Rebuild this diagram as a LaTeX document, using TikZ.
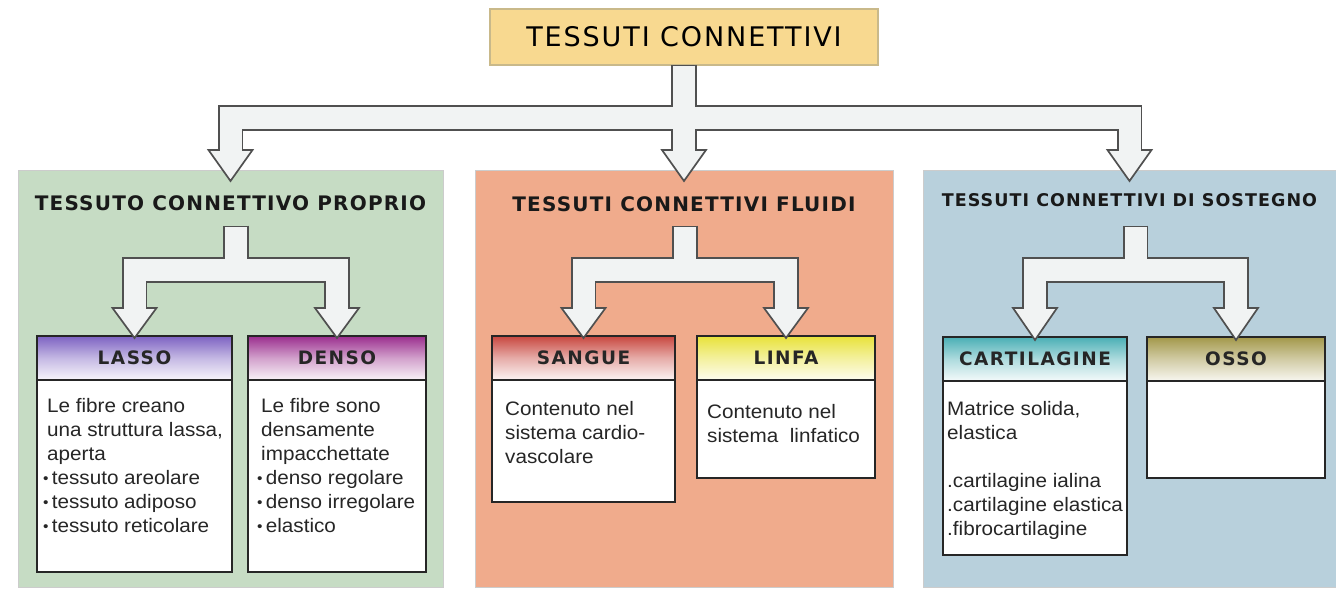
\documentclass[tikz,border=0pt]{standalone}
\usepackage{fontspec}
\setmainfont{Liberation Sans}[FakeStretch=1.06]
\newfontfamily\titolofont{DejaVu Sans}[LetterSpace=7]
\newfontfamily\testafont{DejaVu Sans}[LetterSpace=6]
\newfontfamily\cassafont{DejaVu Sans}[LetterSpace=8]
\usetikzlibrary{positioning,calc}

\definecolor{titlefill}{HTML}{F8D990}
\definecolor{titleline}{HTML}{C9B98A}
\definecolor{greenpanel}{HTML}{C6DCC4}
\definecolor{orangepanel}{HTML}{F0AB8C}
\definecolor{bluepanel}{HTML}{B8D0DC}
\definecolor{pipeline}{HTML}{505050}
\definecolor{pipefill}{HTML}{F1F3F3}
\definecolor{lassotop}{HTML}{7D62C2}
\definecolor{densotop}{HTML}{9B2E8E}
\definecolor{sanguetop}{HTML}{C8473F}
\definecolor{linfatop}{HTML}{E8E23A}
\definecolor{cartitop}{HTML}{4AAFB5}
\definecolor{ossotop}{HTML}{A3984A}
\definecolor{bodyink}{HTML}{262626}

\newcommand{\dotitem}{\hspace*{-4pt}\raisebox{0.5pt}{\scalebox{0.75}{\textbullet}}\,}

\begin{document}
\begin{tikzpicture}[x=1pt, y=-1pt,
    panel/.style={draw=black!20, line width=1pt, inner sep=0pt, outer sep=0pt},
    panelhead/.style={font=\testafont\bfseries\fontsize{20}{22}\selectfont, inner sep=0pt, text=black!90},
    subbox/.style={fill=white, inner sep=0pt, outer sep=0pt},
    boxline/.style={draw=black!85, line width=1.6pt},
    subhead/.style={font=\cassafont\bfseries\fontsize{18.5}{20}\selectfont, inner sep=0pt, text=black!85},
    bodytext/.style={font=\fontsize{19.5}{24}\selectfont, align=left, inner sep=0pt, text=bodyink},
    pipeout/.style={draw=pipeline, line width=25.5pt},
    pipein/.style={draw=pipefill, line width=22pt},
    pipehead/.style={draw=pipeline, fill=pipefill, line width=1.7pt, line join=miter}]
    \useasboundingbox[fill=white] (0,0) rectangle (1336,589);

    \node[panel, fill=greenpanel, minimum width=425pt, minimum height=417pt] (proprio) at (230.5,378.5) {};
    \node[panel, fill=orangepanel, minimum width=418pt, minimum height=417pt] (fluidi) at (684,378.5) {};
    \node[panel, fill=bluepanel, minimum width=413pt, minimum height=417pt] (sostegno) at (1129.5,378.5) {};

    \node[draw=titleline, fill=titlefill, line width=1.2pt, outer sep=0pt, minimum width=388pt, minimum height=56pt,
        font=\titolofont\fontsize{27}{30}\selectfont] (title) at (684,37) {TESSUTI CONNETTIVI};

    \node[panelhead, below=25pt of proprio.north] (proprio-h) {TESSUTO CONNETTIVO PROPRIO};
    \node[panelhead, below=26pt of fluidi.north] (fluidi-h) {TESSUTI CONNETTIVI FLUIDI};
    \node[panelhead, font=\testafont\bfseries\fontsize{17.5}{20}\selectfont, below=23pt of sostegno.north] (sostegno-h) {TESSUTI CONNETTIVI DI SOSTEGNO};

    \node[subbox, minimum width=195pt, minimum height=236pt] (lasso) at (134.5,454) {};
    \shade[top color=lassotop, bottom color=lassotop!6!white, middle color=lassotop!45!white] (lasso.north west) rectangle ([yshift=-44pt]lasso.north east);
    \draw[boxline] ([yshift=-44pt]lasso.north west) -- ([yshift=-44pt]lasso.north east);
    \draw[boxline] (lasso.north west) rectangle (lasso.south east);
    \node[subhead] (lasso-h) at ([yshift=-22pt]lasso.north) {LASSO};
    \node[bodytext, below right=62pt and 10pt of lasso.north west] (lasso-b) {Le fibre creano\\una struttura lassa,\\aperta\\\dotitem tessuto areolare\\\dotitem tessuto adiposo\\\dotitem tessuto reticolare};

    \node[subbox, minimum width=178pt, minimum height=236pt] (denso) at (337,454) {};
    \shade[top color=densotop, bottom color=densotop!6!white, middle color=densotop!45!white] (denso.north west) rectangle ([yshift=-44pt]denso.north east);
    \draw[boxline] ([yshift=-44pt]denso.north west) -- ([yshift=-44pt]denso.north east);
    \draw[boxline] (denso.north west) rectangle (denso.south east);
    \node[subhead] (denso-h) at ([yshift=-22pt]denso.north) {DENSO};
    \node[bodytext, below right=62pt and 13pt of denso.north west] (denso-b) {Le fibre sono\\densamente\\impacchettate\\\dotitem denso regolare\\\dotitem denso irregolare\\\dotitem elastico};

    \node[subbox, minimum width=183pt, minimum height=166pt] (sangue) at (583.5,419) {};
    \shade[top color=sanguetop, bottom color=sanguetop!6!white, middle color=sanguetop!45!white] (sangue.north west) rectangle ([yshift=-44pt]sangue.north east);
    \draw[boxline] ([yshift=-44pt]sangue.north west) -- ([yshift=-44pt]sangue.north east);
    \draw[boxline] (sangue.north west) rectangle (sangue.south east);
    \node[subhead] (sangue-h) at ([yshift=-22pt]sangue.north) {SANGUE};
    \node[bodytext, below right=65pt and 13pt of sangue.north west] (sangue-b) {Contenuto nel\\sistema cardio-\\vascolare};

    \node[subbox, minimum width=178pt, minimum height=142pt] (linfa) at (786,407) {};
    \shade[top color=linfatop, bottom color=linfatop!8!white, middle color=linfatop!50!white] (linfa.north west) rectangle ([yshift=-44pt]linfa.north east);
    \draw[boxline] ([yshift=-44pt]linfa.north west) -- ([yshift=-44pt]linfa.north east);
    \draw[boxline] (linfa.north west) rectangle (linfa.south east);
    \node[subhead] (linfa-h) at ([yshift=-22pt]linfa.north) {LINFA};
    \node[bodytext, below right=68pt and 10pt of linfa.north west] (linfa-b) {Contenuto nel\\sistema\ \ linfatico};

    \node[subbox, minimum width=184pt, minimum height=218pt] (cartilagine) at (1035,446) {};
    \shade[top color=cartitop, bottom color=cartitop!6!white, middle color=cartitop!45!white] (cartilagine.north west) rectangle ([yshift=-44pt]cartilagine.north east);
    \draw[boxline] ([yshift=-44pt]cartilagine.north west) -- ([yshift=-44pt]cartilagine.north east);
    \draw[boxline] (cartilagine.north west) rectangle (cartilagine.south east);
    \node[subhead] (cartilagine-h) at ([yshift=-22pt]cartilagine.north) {CARTILAGINE};
    \node[bodytext, below right=64pt and 4pt of cartilagine.north west] (cartilagine-b) {Matrice solida,\\elastica\\\mbox{}\\.cartilagine ialina\\.cartilagine elastica\\.fibrocartilagine};

    \node[subbox, minimum width=178pt, minimum height=141pt] (osso) at (1236,407.5) {};
    \shade[top color=ossotop, bottom color=ossotop!8!white, middle color=ossotop!50!white] (osso.north west) rectangle ([yshift=-44pt]osso.north east);
    \draw[boxline] ([yshift=-44pt]osso.north west) -- ([yshift=-44pt]osso.north east);
    \draw[boxline] (osso.north west) rectangle (osso.south east);
    \node[subhead] (osso-h) at ([yshift=-22pt]osso.north) {OSSO};

    \path (0,118) coordinate (bar0) (0,150) coordinate (head0) (0,227) coordinate (stem1) (0,270) coordinate (bar1) (0,308) coordinate (head1);
    \coordinate (proprio-fork) at ($(lasso.north)!0.5!(denso.north)$);
    \coordinate (fluidi-fork) at ($(sangue.north)!0.5!(linfa.north)$);
    \coordinate (sostegno-fork) at ($(cartilagine.north)!0.5!(osso.north)$);

    \draw[pipeout] (title.south) -- (title.south |- bar0);
    \draw[pipeout] (proprio.north |- head0) |- (fluidi.north |- bar0) -| (sostegno-h.north |- head0);
    \draw[pipeout] (fluidi.north |- bar0) -- (fluidi.north |- head0);
    \draw[pipeout, shorten <=-1.5pt] (proprio-fork |- stem1) -- (proprio-fork |- bar1);
    \draw[pipeout] (lasso.north |- head1) |- (proprio-fork |- bar1) -| (denso.north |- head1);
    \draw[pipeout, shorten <=-1.5pt] (fluidi-fork |- stem1) -- (fluidi-fork |- bar1);
    \draw[pipeout] (sangue.north |- head1) |- (fluidi-fork |- bar1) -| (linfa.north |- head1);
    \draw[pipeout, shorten <=-1.5pt] (sostegno-fork |- stem1) -- (sostegno-fork |- bar1);
    \draw[pipeout] (cartilagine.north |- head1) |- (sostegno-fork |- bar1) -| (osso.north |- head1);

    \draw[pipehead] ($(proprio.north |- head0)+(-22,0)$) -- ($(proprio.north |- head0)+(22,0)$) -- ($(proprio.north |- head0)+(0,31)$) -- cycle;
    \draw[pipehead] ($(fluidi.north |- head0)+(-22,0)$) -- ($(fluidi.north |- head0)+(22,0)$) -- ($(fluidi.north |- head0)+(0,31)$) -- cycle;
    \draw[pipehead] ($(sostegno-h.north |- head0)+(-22,0)$) -- ($(sostegno-h.north |- head0)+(22,0)$) -- ($(sostegno-h.north |- head0)+(0,31)$) -- cycle;
    \draw[pipehead] ($(lasso.north |- head1)+(-22,0)$) -- ($(lasso.north |- head1)+(22,0)$) -- ($(lasso.north |- head1)+(0,30)$) -- cycle;
    \draw[pipehead] ($(denso.north |- head1)+(-22,0)$) -- ($(denso.north |- head1)+(22,0)$) -- ($(denso.north |- head1)+(0,30)$) -- cycle;
    \draw[pipehead] ($(sangue.north |- head1)+(-22,0)$) -- ($(sangue.north |- head1)+(22,0)$) -- ($(sangue.north |- head1)+(0,30)$) -- cycle;
    \draw[pipehead] ($(linfa.north |- head1)+(-22,0)$) -- ($(linfa.north |- head1)+(22,0)$) -- ($(linfa.north |- head1)+(0,30)$) -- cycle;
    \draw[pipehead] ($(cartilagine.north |- head1)+(-22,0)$) -- ($(cartilagine.north |- head1)+(22,0)$) -- ($(cartilagine.north |- head1)+(0,32)$) -- cycle;
    \draw[pipehead] ($(osso.north |- head1)+(-22,0)$) -- ($(osso.north |- head1)+(22,0)$) -- ($(osso.north |- head1)+(0,32)$) -- cycle;

    \draw[pipein, shorten <=0.6pt] (title.south) -- (title.south |- bar0);
    \draw[pipein, shorten <=-3pt, shorten >=-3pt] (proprio.north |- head0) |- (fluidi.north |- bar0) -| (sostegno-h.north |- head0);
    \draw[pipein, shorten >=-3pt] (fluidi.north |- bar0) -- (fluidi.north |- head0);
    \draw[pipein] (proprio-fork |- stem1) -- (proprio-fork |- bar1);
    \draw[pipein, shorten <=-3pt, shorten >=-3pt] (lasso.north |- head1) |- (proprio-fork |- bar1) -| (denso.north |- head1);
    \draw[pipein] (fluidi-fork |- stem1) -- (fluidi-fork |- bar1);
    \draw[pipein, shorten <=-3pt, shorten >=-3pt] (sangue.north |- head1) |- (fluidi-fork |- bar1) -| (linfa.north |- head1);
    \draw[pipein] (sostegno-fork |- stem1) -- (sostegno-fork |- bar1);
    \draw[pipein, shorten <=-3pt, shorten >=-3pt] (cartilagine.north |- head1) |- (sostegno-fork |- bar1) -| (osso.north |- head1);
\end{tikzpicture}
\end{document}
